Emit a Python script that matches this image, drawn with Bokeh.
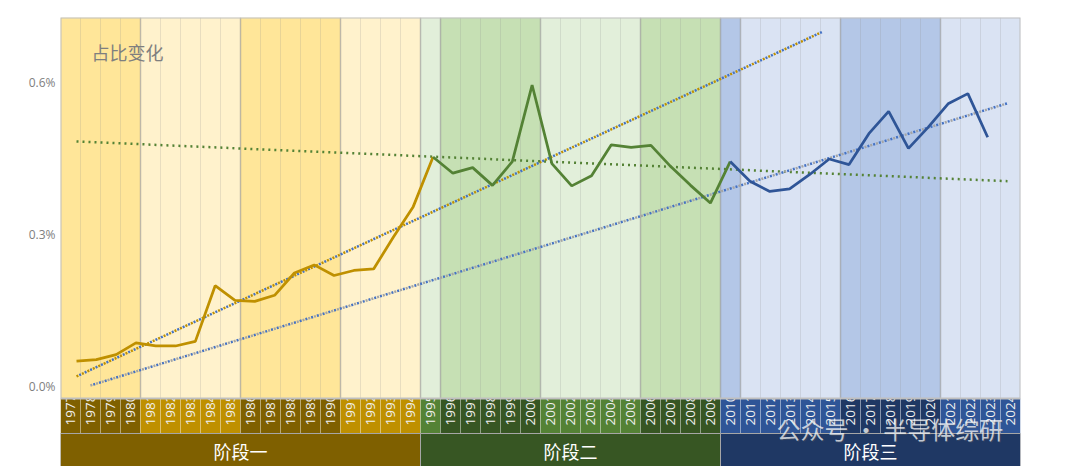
from bokeh.plotting import figure
from bokeh.models import Range1d, FixedTicker, PrintfTickFormatter, Label
from bokeh.core.properties import value
from bokeh.embed import file_html
from bokeh.resources import INLINE

# ---------------- data ----------------
years = list(range(1977, 2025))
year_labels = [str(y) for y in years]

phase_names = ["阶段一", "阶段二", "阶段三"]
phase_start = [1977, 1995, 2010]
phase_end = [1994, 2009, 2024]

group_start = [1977, 1981, 1986, 1991, 1995, 1996, 2001, 2006, 2010, 2011, 2016, 2021]
group_end = [1980, 1985, 1990, 1994, 1995, 2000, 2005, 2009, 2010, 2015, 2020, 2024]

s1_years = list(range(1977, 1996))
s1_values = [0.050, 0.053, 0.063, 0.086, 0.080, 0.080, 0.089, 0.199, 0.170, 0.168,
             0.180, 0.224, 0.240, 0.219, 0.229, 0.232, 0.295, 0.355, 0.453]

s2_years = list(range(1995, 2011))
s2_values = [0.453, 0.421, 0.432, 0.397, 0.444, 0.595, 0.440, 0.396, 0.416, 0.477,
             0.472, 0.476, 0.434, 0.397, 0.362, 0.444]

s3_years = list(range(2010, 2024))
s3_values = [0.444, 0.405, 0.385, 0.390, 0.418, 0.449, 0.438, 0.499, 0.543, 0.470,
             0.512, 0.558, 0.578, 0.492]

trend1_x = [1977.0, 2014.66]
trend1_y = [0.020, 0.700]
trend2_x = [1977.0, 2024.0]
trend2_y = [0.4836, 0.4052]
trend3_x = [1977.7, 2024.0]
trend3_y = [0.002, 0.559]

y_ticks = [0.0, 0.3, 0.6]
title_text = "占比变化"
watermark_text = "公众号 · 半导体综研"

# ---------------- styles / layout ----------------
band_colors = ["#FFE699", "#FFF2CC", "#FFE699", "#FFF2CC",
               "#E2EFDA", "#C6E0B4", "#E2EFDA", "#C6E0B4",
               "#B4C7E7", "#DAE3F3", "#B4C7E7", "#DAE3F3"]
cell_colors = ["#7F6000", "#BF9000", "#7F6000", "#BF9000",
               "#548235", "#375623", "#548235", "#375623",
               "#2F5597", "#2F5597", "#1F3864", "#2F5597"]
phase_colors = ["#7F6000", "#375623", "#1F3864"]

PPX = 1 / 506.67          # percent per pixel
Y_TOP = 369 * PPX         # frame top
PLOT_BOTTOM = -12 * PPX   # bottom of plot area
YEAR_BOTTOM = -47 * PPX   # bottom of year row
Y_BOTTOM = -80 * PPX      # bottom of stage row
CJK = "Noto Sans CJK SC"

p = figure(width=1068, height=466, output_backend="svg", toolbar_location=None,
           x_range=Range1d(1976.5, 2024.5), y_range=Range1d(Y_BOTTOM, Y_TOP),
           min_border_left=60, min_border_right=48, min_border_top=17, min_border_bottom=0)
p.extra_x_ranges = {"line": Range1d(1976.192, 2024.656)}
p.outline_line_color = None
p.xaxis.visible = False
p.xgrid.visible = False
p.ygrid.visible = False
p.background_fill_color = "white"

ya = p.yaxis[0]
ya.ticker = FixedTicker(ticks=y_ticks)
ya.formatter = PrintfTickFormatter(format="%.1f%%")
ya.axis_line_color = None
ya.major_tick_line_color = None
ya.minor_tick_line_color = None
ya.major_tick_out = 0
ya.major_tick_in = 0
ya.major_label_standoff = 5
ya.major_label_text_color = "#808080"
ya.major_label_text_font = "Open Sans"
ya.major_label_text_font_size = "12px"

# year cells (row under plot)
cell_left, cell_right, cell_fill = [], [], []
band_left, band_right, band_fill = [], [], []
for gs, ge, cc, bc in zip(group_start, group_end, cell_colors, band_colors):
    for y in range(gs, ge + 1):
        cell_left.append(y - 0.5)
        cell_right.append(y + 0.5)
        cell_fill.append(cc)
    band_left.append(gs - 0.5)
    band_right.append(ge + 0.5)
    band_fill.append(bc)

p.quad(left=cell_left, right=cell_right, top=PLOT_BOTTOM, bottom=YEAR_BOTTOM,
       fill_color=cell_fill, line_color="#FFFFFF", line_alpha=0.22, line_width=1)

p.text(x=years, y=-39 * PPX, text=year_labels, angle=1.5708,
       text_align="left", text_baseline="middle", text_color="#F0F0F0",
       text_font=value("Open Sans"), text_font_size="13.5px")

# plot-area bands (cover overflowing year labels)
p.quad(left=band_left, right=band_right, top=Y_TOP, bottom=PLOT_BOTTOM,
       fill_color=band_fill, line_color=None)

# year separators
sep_x = [y + 0.5 for y in years[:-1]]
p.segment(x0=sep_x, x1=sep_x, y0=PLOT_BOTTOM, y1=Y_TOP, line_color="#8C8C8C",
          line_alpha=0.2, line_width=1)
grp_x = [g - 0.5 for g in group_start[1:]]
p.segment(x0=grp_x, x1=grp_x, y0=PLOT_BOTTOM, y1=Y_TOP, line_color="#8C8C8C",
          line_alpha=0.45, line_width=1.5)

# plot border
p.quad(left=1976.5, right=2024.5, top=Y_TOP, bottom=PLOT_BOTTOM, fill_color=None,
       line_color="#BFBFBF", line_width=2)

# stage row
ps_left = [s - 0.5 for s in phase_start]
ps_right = [e + 0.5 for e in phase_end]
p.quad(left=ps_left, right=ps_right, top=YEAR_BOTTOM, bottom=Y_BOTTOM,
       fill_color=phase_colors, line_color="#A6A6A6", line_width=1)
p.text(x=[(s + e) / 2 for s, e in zip(phase_start, phase_end)], y=-64 * PPX,
       text=phase_names, text_align="center", text_baseline="middle",
       text_color="#FFFFFF", text_font=value(CJK), text_font_size="18px")

# trend lines
p.line(trend1_x, trend1_y, x_range_name="line", line_color="#BF9000", line_width=2.5,
       line_dash="2 4", line_dash_offset=0)
p.line(trend1_x, trend1_y, x_range_name="line", line_color="#4472C4", line_width=2.5,
       line_dash="2 4", line_dash_offset=3)
p.line(trend2_x, trend2_y, x_range_name="line", line_color="#548235", line_width=2.5,
       line_dash="2 4")
p.line(trend3_x, trend3_y, x_range_name="line", line_color="#A5A5A5", line_width=2.5,
       line_dash="2 4", line_dash_offset=0)
p.line(trend3_x, trend3_y, x_range_name="line", line_color="#4472C4", line_width=2.5,
       line_dash="2 4", line_dash_offset=3)

# series
p.line(s1_years, s1_values, x_range_name="line", line_color="#BF9000", line_width=2.75)
p.line(s2_years, s2_values, x_range_name="line", line_color="#548235", line_width=2.75)
p.line(s3_years, s3_values, x_range_name="line", line_color="#2F5597", line_width=2.75)

# title
p.add_layout(Label(x=1978.05, y=335 * PPX, text=title_text, text_baseline="middle",
                   text_color="#7F7F7F", text_font=CJK, text_font_size="18px"))

# watermark (faint, as in the reference)
p.add_layout(Label(x=2012.3, y=-42 * PPX, text=watermark_text, text_baseline="middle",
                   text_color="#606060", text_alpha=0.35, text_font=CJK,
                   text_font_size="24px", x_offset=1, y_offset=-1))
p.add_layout(Label(x=2012.3, y=-42 * PPX, text=watermark_text, text_baseline="middle",
                   text_color="#FFFFFF", text_alpha=0.72, text_font=CJK,
                   text_font_size="24px"))

open("out.html", "w").write(file_html(p, INLINE))
